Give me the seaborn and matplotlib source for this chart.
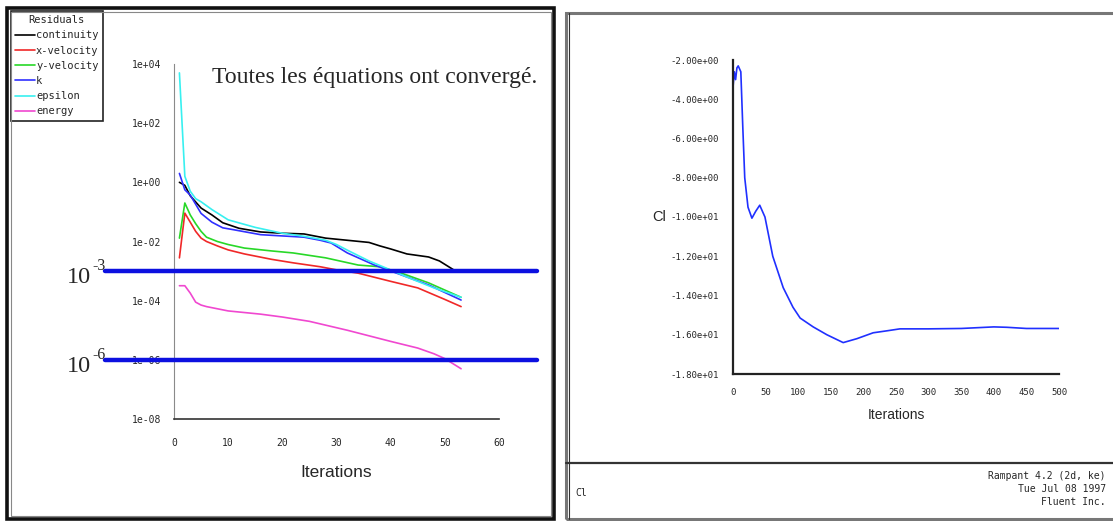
import matplotlib
matplotlib.use("Agg")
import matplotlib.pyplot as plt
from matplotlib.patches import Rectangle
from matplotlib.lines import Line2D
from matplotlib.ticker import FixedLocator, NullFormatter
import pandas as pd
import seaborn as sns

# ---------------------------------------------------------------- data
# Residual histories (iteration, scaled residual)
continuity_it = [1, 2, 3, 5, 7, 9, 12, 16, 20, 24, 28, 32, 36, 38, 40, 43, 47, 49, 51, 52]
continuity = [1.0, 0.79, 0.35, 0.135, 0.079, 0.043, 0.028, 0.021, 0.019, 0.018,
              0.013, 0.011, 9.3e-3, 7.1e-3, 5.6e-3, 3.8e-3, 3.0e-3, 2.2e-3, 1.3e-3, 1.0e-3]

xvel_it = [1, 2, 3, 4, 5, 6, 8, 10, 13, 18, 22, 27, 30, 34, 40, 45, 50, 53]
xvel = [2.8e-3, 0.091, 0.045, 0.022, 0.013, 0.010, 7.1e-3, 5.2e-3, 3.8e-3, 2.5e-3,
        1.9e-3, 1.4e-3, 1.1e-3, 8.5e-4, 4.5e-4, 2.7e-4, 1.1e-4, 6.3e-5]

yvel_it = [1, 2, 3, 4, 5, 6, 8, 10, 13, 18, 22, 28, 34, 38, 42, 47, 53]
yvel = [0.013, 0.20, 0.079, 0.040, 0.022, 0.014, 0.010, 7.9e-3, 6.0e-3, 4.8e-3,
        4.1e-3, 2.8e-3, 1.6e-3, 1.4e-3, 8.5e-4, 4.0e-4, 1.3e-4]

k_it = [1, 2, 3, 5, 7, 9, 11, 16, 24, 27, 29, 32, 37, 42, 47, 53]
k_res = [2.0, 0.56, 0.37, 0.089, 0.045, 0.029, 0.025, 0.017, 0.014, 0.011,
         8.9e-3, 4.1e-3, 1.6e-3, 7.4e-4, 3.4e-4, 1.05e-4]

eps_it = [1, 2, 3, 4, 5, 7, 10, 15, 20, 24, 28, 30, 32, 36, 39, 43, 48, 53]
epsilon = [5.0e3, 1.6, 0.5, 0.28, 0.22, 0.12, 0.054, 0.030, 0.019, 0.015, 0.011,
           7.9e-3, 5.1e-3, 2.2e-3, 1.3e-3, 6.3e-4, 2.7e-4, 1.3e-4]

energy_it = [1, 2, 3, 4, 5, 6, 10, 16, 20, 25, 32, 40, 45, 48, 50, 53]
energy = [3.2e-4, 3.2e-4, 1.8e-4, 8.9e-5, 7.1e-5, 6.3e-5, 4.5e-5, 3.5e-5, 2.8e-5,
          2.0e-5, 1.0e-5, 4.2e-6, 2.5e-6, 1.6e-6, 1.1e-6, 5.0e-7]

equations = ["continuity", "x-velocity", "y-velocity", "k", "epsilon", "energy"]
eq_colors = ["#000000", "#f02828", "#28d828", "#3030ff", "#38f0f0", "#f048d0"]

convergence_levels = [1e-3, 1e-6]
convergence_labels = ["-3", "-6"]

res_xticks = [0, 10, 20, 30, 40, 50, 60]
res_yticks = [1e-8, 1e-6, 1e-4, 1e-2, 1e0, 1e2, 1e4]

# Lift coefficient history
cl_it = [0, 2, 4, 6, 8, 12, 15, 18, 23, 29, 35, 41, 49, 61, 77, 92, 103, 123, 144,
         169, 190, 215, 236, 256, 300, 350, 400, 420, 450, 500]
cl = [-3.4, -2.6, -3.0, -2.4, -2.3, -2.6, -5.4, -8.0, -9.5, -10.06, -9.7, -9.4, -10.0,
      -12.0, -13.6, -14.6, -15.15, -15.6, -16.0, -16.4, -16.2, -15.9, -15.8, -15.7,
      -15.7, -15.68, -15.6, -15.62, -15.68, -15.68]
cl_xticks = [0, 50, 100, 150, 200, 250, 300, 350, 400, 450, 500]
cl_yticks = [-18, -16, -14, -12, -10, -8, -6, -4, -2]

footer_lines = ["Rampant 4.2 (2d, ke)", "Tue Jul 08 1997", "Fluent Inc."]

# ---------------------------------------------------------------- style
sns.set_style("white")
MONO = ["DejaVu Sans Mono"]
SANS = ["Liberation Sans", "DejaVu Sans"]
SERIF = ["Liberation Serif", "DejaVu Serif"]
plt.rcParams["font.family"] = MONO

W, H = 1113, 521
fig = plt.figure(figsize=(W / 100, H / 100), dpi=100)
fig.patch.set_facecolor("white")


def fx(x):
    return x / W


def fy(y):
    return 1 - y / H


# ---------------------------------------------------------------- panel frames
fig.add_artist(Rectangle((fx(7), fy(519)), fx(554) - fx(7), fy(8) - fy(519),
                         transform=fig.transFigure, fill=False, lw=2.6, ec="#111111"))
fig.add_artist(Rectangle((fx(10.5), fy(516)), fx(550.5) - fx(10.5), fy(11.5) - fy(516),
                         transform=fig.transFigure, fill=False, lw=0.8, ec="#888888"))
fig.add_artist(Rectangle((fx(566), fy(519)), fx(1116) - fx(566), fy(13) - fy(519),
                         transform=fig.transFigure, fill=False, lw=2.2, ec="#777777"))
fig.add_artist(Line2D([fx(569), fx(569)], [fy(519), fy(13)], transform=fig.transFigure,
                      lw=0.8, color="#333333"))
fig.add_artist(Line2D([fx(566), fx(1113)], [fy(463), fy(463)], transform=fig.transFigure,
                      lw=1.6, color="#333333"))

# ---------------------------------------------------------------- residual plot
ax_l = fig.add_axes([fx(174), fy(419), fx(499) - fx(174), fy(64) - fy(419)])
its = {"continuity": continuity_it, "x-velocity": xvel_it, "y-velocity": yvel_it,
       "k": k_it, "epsilon": eps_it, "energy": energy_it}
vals = {"continuity": continuity, "x-velocity": xvel, "y-velocity": yvel,
        "k": k_res, "epsilon": epsilon, "energy": energy}
frames = [pd.DataFrame({"Iterations": its[e], "Residual": vals[e], "Equation": e})
          for e in equations]
df = pd.concat(frames, ignore_index=True)

sns.lineplot(data=df, x="Iterations", y="Residual", hue="Equation", hue_order=equations,
             palette=dict(zip(equations, eq_colors)), estimator=None, sort=False,
             lw=1.2, ax=ax_l)
ax_l.set_yscale("log")
ax_l.set_xlim(0, 60)
ax_l.set_ylim(1e-8, 1e4)
ax_l.set_xticks(res_xticks)
ax_l.set_xticklabels([str(t) for t in res_xticks], fontsize=7)
ax_l.xaxis.set_minor_locator(FixedLocator([t + d for t in res_xticks[:-1] for d in (2.5, 5, 7.5)]))
ax_l.set_yticks(res_yticks)
ax_l.set_yticklabels([f"{v:.0e}" for v in res_yticks], fontsize=7)
ax_l.yaxis.set_minor_locator(FixedLocator([v * s for v in res_yticks for s in (0.2, 0.5, 0.7, 0.1)]))
ax_l.yaxis.set_minor_formatter(NullFormatter())
ax_l.tick_params(axis="y", which="major", direction="out", length=5, width=1, color="#333333", pad=4)
ax_l.tick_params(axis="x", which="major", direction="out", length=5, width=1, color="#333333", pad=9)
ax_l.tick_params(which="minor", direction="out", length=3, width=1, color="#333333")
for side in ("top", "right"):
    ax_l.spines[side].set_visible(False)
ax_l.spines["left"].set_color("#8a8a8a")
ax_l.spines["bottom"].set_color("#333333")
ax_l.spines["bottom"].set_linewidth(1.2)
ax_l.set_xlabel("Iterations", family=SANS, fontsize=12.5, labelpad=12)
ax_l.set_ylabel("")
ax_l.patch.set_alpha(0)

for lvl, lab in zip(convergence_levels, convergence_labels):
    ax_l.axhline(lvl, xmin=(105 - 174) / 325, xmax=(537 - 174) / 325, color="#0c10e0",
                 lw=3.2, clip_on=False, zorder=5)
    y_px = ax_l.transData.transform((0, lvl))[1]
    y_top = H - y_px
    fig.text(fx(67), fy(y_top + 12), "10", family=SERIF, fontsize=17.5, va="baseline", ha="left")
    fig.text(fx(92), fy(y_top - 1), lab, family=SERIF, fontsize=11.5, va="baseline", ha="left")

fig.text(fx(212), fy(83), "Toutes les équations ont convergé.", family=SERIF,
         fontsize=17, va="baseline", ha="left")

sns.move_legend(ax_l, "upper left", bbox_to_anchor=(fx(11), fy(11)),
                bbox_transform=fig.transFigure, title="Residuals", frameon=True,
                fancybox=False, edgecolor="#222222", framealpha=1, fontsize=7.5,
                title_fontsize=7.5, handlelength=1.9, handletextpad=0.1,
                labelspacing=0.5, borderpad=0.4, borderaxespad=0)
leg = ax_l.get_legend()
leg.get_frame().set_linewidth(1.2)
for ln in leg.get_lines():
    ln.set_linewidth(1.2)

# ---------------------------------------------------------------- lift coefficient plot
ax_r = fig.add_axes([fx(733), fy(374), fx(1059) - fx(733), fy(60) - fy(374)])
sns.lineplot(x=cl_it, y=cl, color="#2030ff", lw=1.2, estimator=None, sort=False, ax=ax_r)
ax_r.set_xlim(0, 500)
ax_r.set_ylim(-18, -2)
ax_r.set_xticks(cl_xticks)
ax_r.set_xticklabels([str(t) for t in cl_xticks], fontsize=6.5)
ax_r.xaxis.set_minor_locator(FixedLocator([t + 25 for t in cl_xticks[:-1]]))
ax_r.set_yticks(cl_yticks)
ax_r.set_yticklabels([f"{v:.2e}" for v in cl_yticks], fontsize=6.5)
ax_r.yaxis.set_minor_locator(FixedLocator([t + 1 for t in cl_yticks[:-1]]))
ax_r.tick_params(which="major", direction="out", length=5, width=1.2, color="#222222", pad=5)
ax_r.tick_params(which="minor", direction="out", length=3, width=1.2, color="#222222")
for side in ("top", "right"):
    ax_r.spines[side].set_visible(False)
for side in ("left", "bottom"):
    ax_r.spines[side].set_color("#222222")
    ax_r.spines[side].set_linewidth(1.6)
ax_r.set_xlabel("Iterations", family=SANS, fontsize=10, labelpad=8)
ax_r.set_ylabel("")
ax_r.patch.set_alpha(0)
fig.text(fx(652), fy(217), "Cl", family=SANS, fontsize=10.5, va="center", ha="left")

# footer of the lift panel
fig.text(fx(575), fy(493), "Cl", fontsize=7, va="center", ha="left")
for i, line in enumerate(footer_lines):
    fig.text(fx(1106), fy(476 + 13 * i), line, fontsize=7, va="center", ha="right")

fig.savefig("out.png", dpi=100, facecolor="white")
